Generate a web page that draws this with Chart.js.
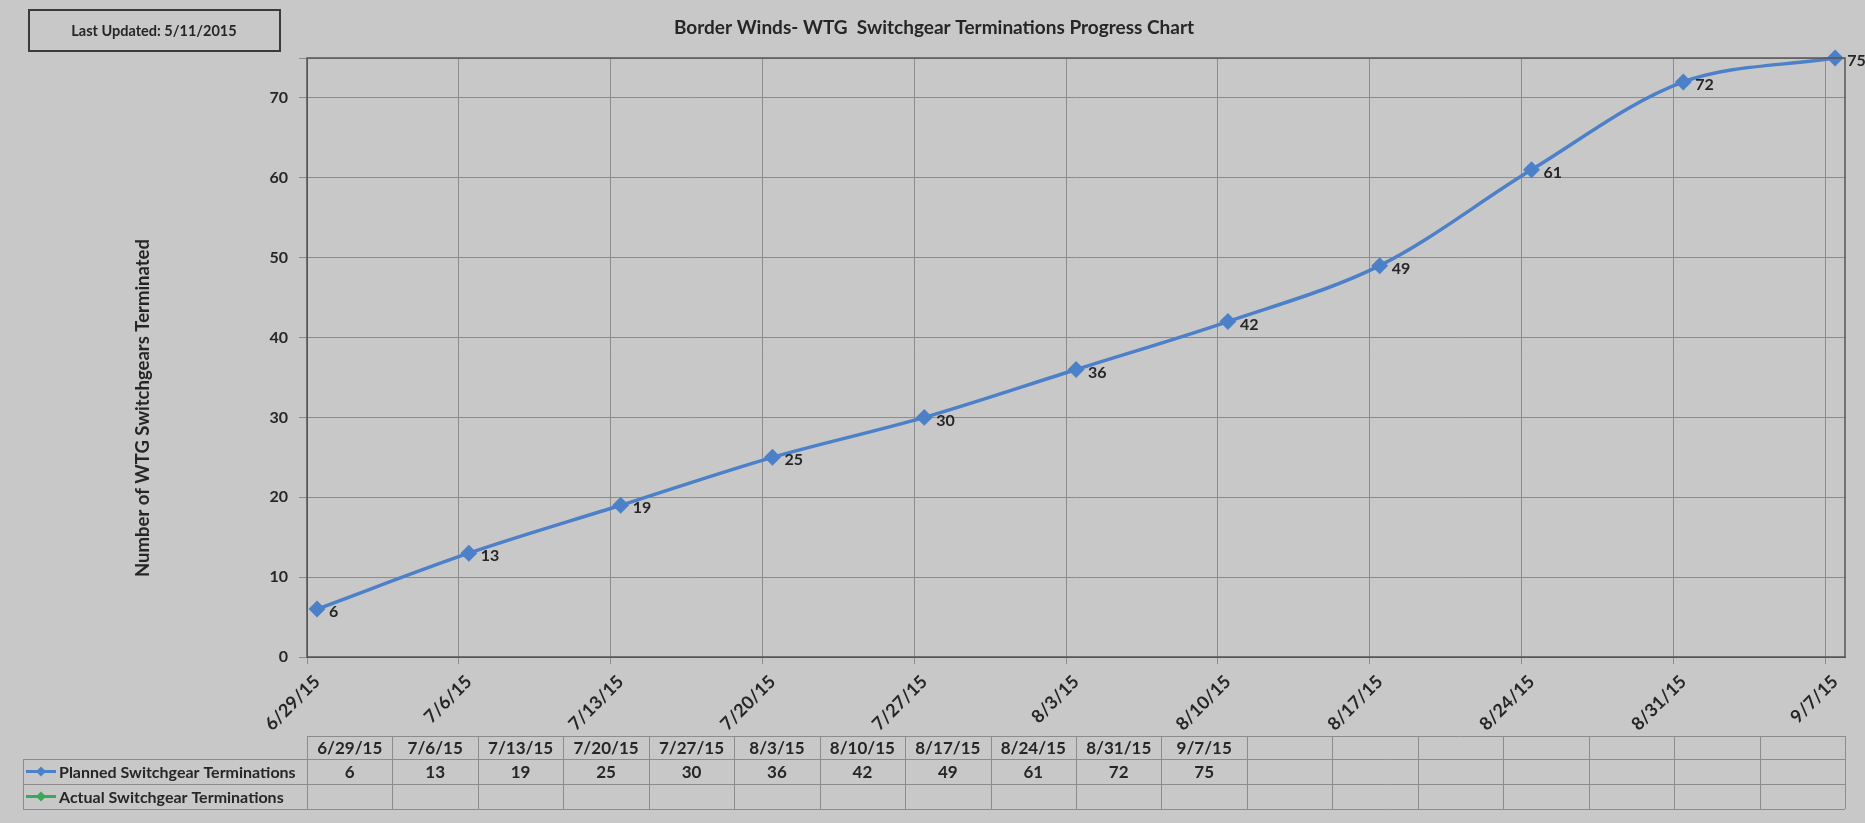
<!DOCTYPE html>
<html>
<head>
	<title>Border Winds- WTG Switchgear Terminations Progress Chart</title>
	<script src="https://cdn.jsdelivr.net/npm/chart.js"></script>
</head>
<body>
	<div id="wrap">
		<canvas id="chart"></canvas>
	</div>

	<style type="text/css">
		body {
			margin: 0;
			padding: 0;
			background: #c8c8c8;
		}
		#wrap {
			width: 1865px;
			height: 823px;
		}
	</style>

	<script>
		// data
		var titleText = 'Border Winds- WTG  Switchgear Terminations Progress Chart';
		var updatedText = 'Last Updated: 5/11/2015';
		var yTitle = 'Number of WTG Switchgears Terminated';
		var dates = ['6/29/15', '7/6/15', '7/13/15', '7/20/15', '7/27/15', '8/3/15', '8/10/15', '8/17/15', '8/24/15', '8/31/15', '9/7/15'];
		var planned = [6, 13, 19, 25, 30, 36, 42, 49, 61, 72, 75];
		var actual = [];
		var seriesNames = ['Planned Switchgear Terminations', 'Actual Switchgear Terminations'];
		var yMin = 0, yMax = 75, yStep = 10;
		var tableCols = 18;

		var FONT = 'Lato, "Open Sans", sans-serif';
		var INK = '#262626';
		var BLUE = '#4c80c8';
		var GREEN = '#3aa856';
		var GRID = '#8c8c8c';

		// gridlines in the original sit a little left of the points
		var gridShift = -0.066;

		function diamond(c, x, y, r, col) {
			c.beginPath();
			c.moveTo(x, y - r); c.lineTo(x + r, y); c.lineTo(x, y + r); c.lineTo(x - r, y);
			c.closePath();
			c.fillStyle = col;
			c.fill();
		}

		var extras = {
			id: 'extras',
			beforeDraw: function(chart) {
				var c = chart.ctx;
				c.save();
				c.fillStyle = '#c8c8c8';
				c.fillRect(0, 0, chart.width, chart.height);
				c.restore();
			},
			afterDatasetsDraw: function(chart) {
				var c = chart.ctx;
				var a = chart.chartArea;
				c.save();
				// plot border
				c.strokeStyle = '#555';
				c.lineWidth = 1.5;
				c.strokeRect(a.left, a.top, a.right - a.left, a.bottom - a.top);
				// value labels
				c.font = 'bold 16px ' + FONT;
				c.fillStyle = INK;
				c.textAlign = 'left';
				c.textBaseline = 'middle';
				chart.getDatasetMeta(0).data.forEach(function(p, i) {
					c.fillText(String(planned[i]), p.x + 12, p.y + 3);
				});
				c.restore();
			},
			afterDraw: function(chart) {
				var c = chart.ctx;
				var a = chart.chartArea;
				c.save();

				// title
				c.font = 'bold 19px ' + FONT;
				c.fillStyle = INK;
				c.textAlign = 'center';
				c.textBaseline = 'middle';
				c.fillText(titleText, 934, 28);

				// "last updated" box
				c.strokeStyle = '#3a3a3a';
				c.lineWidth = 2;
				c.strokeRect(29, 10, 251, 41);
				c.font = 'bold 14.5px ' + FONT;
				c.fillText(updatedText, 154, 31);

				// y axis title
				c.save();
				c.translate(143, 408);
				c.rotate(-Math.PI / 2);
				c.font = 'bold 18.5px ' + FONT;
				c.fillText(yTitle, 0, 0);
				c.restore();

				// data table
				var colW = (a.right - a.left) / tableCols;
				var y0 = a.bottom + 79, y1 = y0 + 23, y2 = y1 + 25, y3 = y2 + 25;
				var xL = 23;
				c.strokeStyle = GRID;
				c.lineWidth = 1;
				c.beginPath();
				c.moveTo(a.left, y0 + 0.5); c.lineTo(a.right, y0 + 0.5);
				[y1, y2, y3].forEach(function(y) {
					c.moveTo(xL, y + 0.5); c.lineTo(a.right, y + 0.5);
				});
				c.moveTo(xL + 0.5, y1); c.lineTo(xL + 0.5, y3);
				for (var k = 0; k <= tableCols; k++) {
					var x = Math.round(a.left + k * colW) + 0.5;
					c.moveTo(x, y0); c.lineTo(x, y3);
				}
				c.stroke();

				c.font = 'bold 17px ' + FONT;
				c.fillStyle = INK;
				c.textAlign = 'center';
				dates.forEach(function(d, i) {
					var cx = a.left + (i + 0.5) * colW;
					c.fillText(d, cx, (y0 + y1) / 2 + 1);
					c.fillText(String(planned[i]), cx, (y1 + y2) / 2 + 1);
					if (actual[i] != null) c.fillText(String(actual[i]), cx, (y2 + y3) / 2 + 1);
				});

				// legend keys in the table
				c.font = 'bold 16px ' + FONT;
				var keys = [[BLUE, (y1 + y2) / 2], [GREEN, (y2 + y3) / 2]];
				keys.forEach(function(kk, i) {
					c.strokeStyle = kk[0];
					c.lineWidth = 3;
					c.beginPath();
					c.moveTo(26, kk[1]); c.lineTo(56, kk[1]);
					c.stroke();
					diamond(c, 41, kk[1], 5, kk[0]);
					c.fillStyle = INK;
					c.textAlign = 'left';
					c.fillText(seriesNames[i], 59, kk[1] + 1);
				});

				c.restore();
			}
		};

		var ctx = document.getElementById('chart').getContext('2d');
		var chart = new Chart(ctx, {
			type: 'line',
			data: {
				datasets: [{
					label: seriesNames[0],
					data: planned.map(function(v, i) { return {x: i, y: v}; }),
					borderColor: BLUE,
					backgroundColor: BLUE,
					borderWidth: 3.5,
					pointStyle: 'rectRot',
					pointRadius: 6,
					pointHoverRadius: 6,
					tension: 0.33,
					clip: false
				}, {
					label: seriesNames[1],
					data: actual.map(function(v, i) { return {x: i, y: v}; }),
					borderColor: GREEN,
					backgroundColor: GREEN,
					pointStyle: 'rectRot'
				}]
			},
			options: {
				responsive: true,
				maintainAspectRatio: false,
				animation: false,
				layout: {
					padding: {top: 58, right: 20, left: 0, bottom: 0}
				},
				plugins: {
					legend: {display: false},
					title: {display: false},
					tooltip: {enabled: false}
				},
				scales: {
					x: {
						type: 'linear',
						min: gridShift,
						max: 10.065,
						afterBuildTicks: function(scale) {
							scale.ticks = dates.map(function(d, i) { return {value: i + gridShift}; });
						},
						afterFit: function(scale) { scale.height = 166; },
						grid: {color: GRID, tickLength: 7},
						border: {color: '#555'},
						ticks: {
							autoSkip: false,
							minRotation: 45,
							maxRotation: 45,
							padding: 7,
							labelOffset: 10,
							color: INK,
							font: {family: FONT, size: 18, weight: 'bold'},
							callback: function(v, i) { return dates[i]; }
						}
					},
					y: {
						min: yMin,
						max: yMax,
						afterFit: function(scale) { scale.width = 307; },
						grid: {color: GRID, tickLength: 8},
						border: {color: '#555'},
						ticks: {
							stepSize: yStep,
							padding: 11,
							color: INK,
							font: {family: FONT, size: 16, weight: 'bold'},
							callback: function(v) { return v === yMax ? '' : v; }
						}
					}
				}
			},
			plugins: [extras]
		});
	</script>
</body>
</html>
